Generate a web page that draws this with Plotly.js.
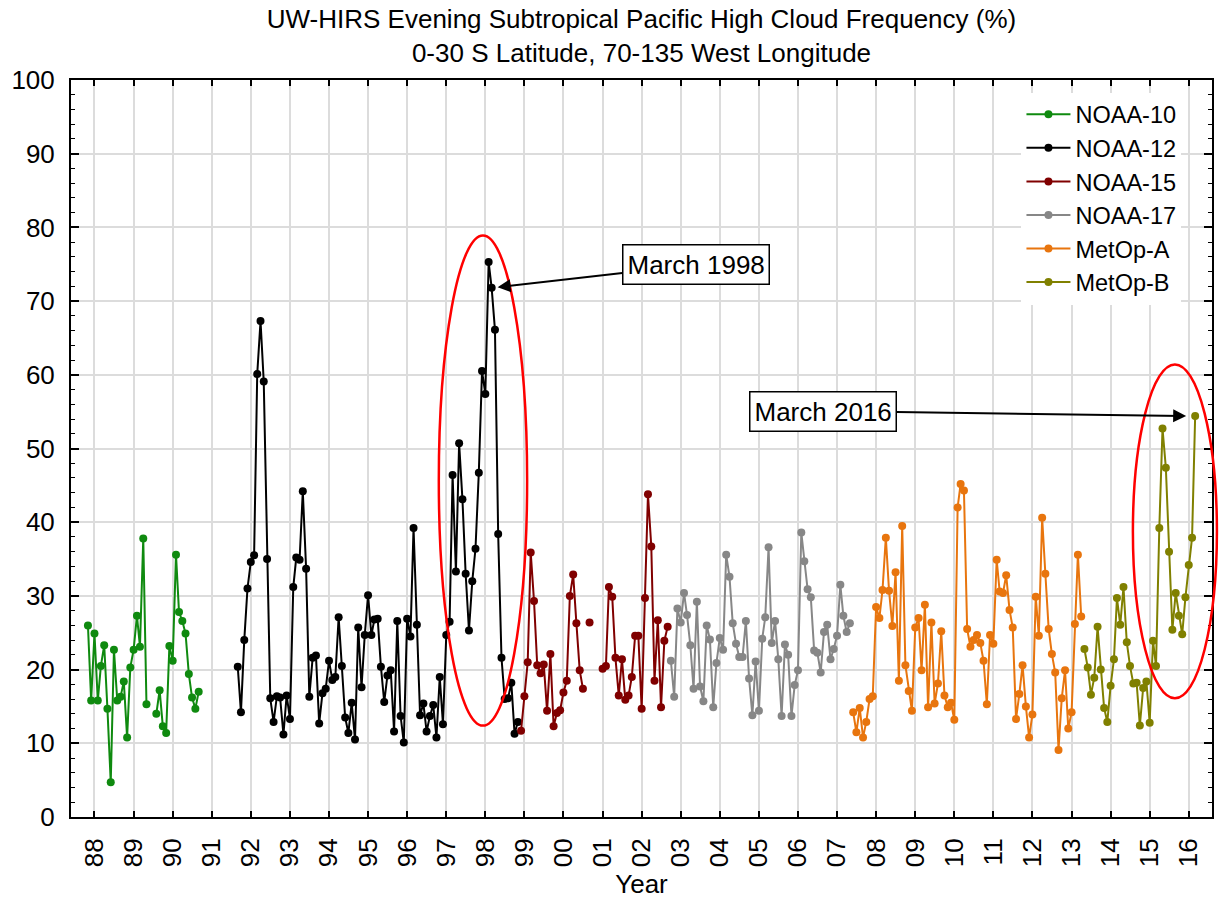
<!DOCTYPE html>
<html>
<head>
<meta charset="utf-8">
<script src="https://cdn.plot.ly/plotly-3.0.1.min.js"></script>
<style>
  html, body { margin: 0; padding: 0; background: #fff; }
  #chart { width: 1220px; height: 899px; }
</style>
</head>
<body>
<div id="chart"></div>
<script>
// ---------------- DATA (monthly values, % ; null = missing month) ----------------
const seriesNames = ['NOAA-10', 'NOAA-12', 'NOAA-15', 'NOAA-17', 'MetOp-A', 'MetOp-B'];

const noaa10Start = '1987-11';
const noaa10 = [26.0, 15.8,
  24.9, 15.8, 20.5, 23.3, 14.7, 4.7, 22.7, 15.8, 16.3, 18.4, 10.8, 20.3,
  22.7, 27.3, 23.1, 37.8, 15.3, null, null, 14.0, 17.2, 12.3, 11.4, 23.2,
  21.2, 35.6, 27.8, 26.6, 24.9, 19.4, 16.2, 14.7, 17.0];

const noaa12Start = '1991-09';
const noaa12 = [20.4, 14.2, 24.0, 31.0,
  34.6, 35.5, 60.1, 67.3, 59.1, 35.0, 16.1, 12.9, 16.4, 16.2, 11.2, 16.5,
  13.3, 31.2, 35.2, 34.9, 44.2, 33.7, 16.3, 21.6, 21.9, 12.7, 16.8, 17.4,
  21.2, 18.6, 19.0, 27.1, 20.5, 13.5, 11.4, 15.5, 10.5, 25.7, 17.6, 24.7,
  30.1, 24.7, 26.8, 26.9, 20.4, 15.6, 19.2, 19.9, 11.6, 26.6, 13.7, 10.1,
  26.9, 24.5, 39.2, 26.1, 13.8, 15.4, 11.6, 13.7, 15.2, 10.8, 19.0, 12.6,
  24.7, 26.5, 46.4, 33.3, 50.7, 43.1, 33.0, 25.3, 32.0, 36.4, 46.7, 60.5,
  57.4, 75.3, 71.8, 66.1, 38.4, 21.6, 16.0, 16.1, 18.2, 11.3, 12.9];

const noaa15Start = '1998-12';
const noaa15 = [11.7,
  16.4, 21.0, 35.9, 29.3, 20.6, 19.5, 20.7, 14.4, 22.1, 12.3, 14.1, 14.5,
  16.9, 18.5, 30.0, 32.9, 26.3, 19.9, 17.4, null, 26.4, null, null, null,
  20.1, 20.5, 31.2, 29.9, 21.6, 16.5, 21.4, 15.9, 16.5, 19.0, 24.6, 24.6,
  14.7, 29.7, 43.8, 36.7, 18.5, 26.7, 14.9, 23.9, 25.8];

const noaa17Start = '2002-10';
const noaa17 = [21.2, 16.3, 28.3,
  26.4, 30.4, 27.4, 23.3, 17.4, 29.2, 17.7, 15.7, 26.0, 24.1, 14.9, 20.9,
  24.3, 22.7, 35.6, 32.6, 26.3, 23.5, 21.7, 21.7, 26.6, 18.8, 13.8, 21.1,
  14.4, 24.2, 27.1, 36.6, 23.6, 26.6, 21.4, 13.7, 23.4, 22.0, 13.7, 17.9,
  19.9, 38.6, 34.7, 30.9, 29.8, 22.6, 22.3, 19.6, 25.1, 26.1, 21.4, 22.8,
  24.6, 31.5, 27.3, 25.1, 26.3];

const metopAStart = '2007-06';
const metopA = [14.2, 11.5, 14.8, 10.8, 12.9, 16.0, 16.4,
  28.5, 27.0, 30.8, 37.9, 30.7, 25.9, 33.2, 18.5, 39.5, 20.6, 17.1, 14.4,
  25.7, 27.0, 19.9, 28.8, 14.9, 26.4, 15.4, 18.1, 25.2, 16.5, 14.9, 15.5,
  13.2, 42.0, 45.2, 44.3, 25.5, 23.1, 24.0, 24.7, 23.6, 21.2, 15.3, 24.7,
  23.5, 34.9, 30.6, 30.4, 32.8, 28.1, 25.7, 13.3, 16.7, 20.6, 15.0, 10.8,
  13.9, 29.9, 24.6, 40.6, 33.0, 25.5, 22.1, 19.6, 9.1, 16.1, 19.9, 12.0,
  14.2, 26.2, 35.6, 27.2];

const metopBStart = '2013-05';
const metopB = [22.8, 20.3, 16.6, 18.9, 25.8, 20.0, 14.8, 12.9,
  17.8, 21.4, 29.7, 26.1, 31.2, 23.7, 20.5, 18.1, 18.2, 12.4, 17.5, 18.4,
  12.8, 23.9, 20.5, 39.2, 52.7, 47.4, 36.0, 25.4, 30.4, 27.3, 24.8, 29.8,
  34.2, 37.9, 54.4];

const titleLines = ['UW-HIRS Evening Subtropical Pacific High Cloud Frequency (%)',
                    '0-30 S Latitude, 70-135 West Longitude'];
const annotationLabels = ['March 1998', 'March 2016'];
const annotationMonths = ['1998-03-01', '2016-03-01'];

// ---------------- STYLE ----------------
const colors = ['#0f8a0f', '#000000', '#800000', '#878787', '#e8750e', '#808000'];
const FONT = '"Liberation Sans", Arial, Helvetica, sans-serif';

// ---------------- helpers ----------------
function monthSeq(start, n) {
  const [y0, m0] = start.split('-').map(Number);
  const out = [];
  for (let i = 0; i < n; i++) {
    const t = (m0 - 1) + i;
    const y = y0 + Math.floor(t / 12);
    const m = (t % 12) + 1;
    out.push(y + '-' + String(m).padStart(2, '0') + '-01');
  }
  return out;
}
function yearToDate(v) {
  const yr = Math.floor(v);
  const s = Date.UTC(yr, 0, 1), e = Date.UTC(yr + 1, 0, 1);
  return new Date(s + (v - yr) * (e - s)).toISOString().slice(0, 19).replace('T', ' ');
}

const X0 = 1987.399, X1 = 2016.594;   // axis range in decimal years
const xPaper = v => (v - X0) / (X1 - X0);
const yPaper = v => v / 100;

const allStarts = [noaa10Start, noaa12Start, noaa15Start, noaa17Start, metopAStart, metopBStart];
const allVals = [noaa10, noaa12, noaa15, noaa17, metopA, metopB];

const traces = allVals.map((vals, i) => ({
  type: 'scatter',
  mode: 'lines+markers',
  name: seriesNames[i],
  x: monthSeq(allStarts[i], vals.length),
  y: vals,
  connectgaps: false,
  line: { color: colors[i], width: 2 },
  marker: { color: colors[i], size: 8 },
  hoverinfo: 'x+y+name'
}));

// annotation anchors looked up from the data
const ptA = (() => { const t = traces[1]; const k = t.x.indexOf(annotationMonths[0]); return { x: t.x[k], y: t.y[k] }; })();
const ptB = (() => { const t = traces[5]; const k = t.x.indexOf(annotationMonths[1]); return { x: t.x[k], y: t.y[k] }; })();

const layout = {
  width: 1220, height: 899,
  margin: { l: 71, r: 8, t: 80, b: 82, pad: 0 },
  paper_bgcolor: '#ffffff',
  plot_bgcolor: '#ffffff',
  font: { family: FONT, size: 25, color: '#000000' },
  showlegend: true,
  title: {
    text: titleLines.join('<br>'),
    x: 0.5, xref: 'paper', xanchor: 'center',
    y: 1 - 28 / 899, yref: 'container', yanchor: 'middle',
    font: { family: FONT, size: 26, color: '#000' }
  },
  xaxis: {
    type: 'date',
    range: [yearToDate(X0), yearToDate(X1)],
    tick0: '1988-01-01', dtick: 'M12', tickformat: '%y',
    tickangle: -90,
    ticks: 'inside', ticklen: 6, tickwidth: 1.5, tickcolor: '#000',
    ticklabelstandoff: 9,
    tickfont: { family: FONT, size: 26, color: '#000' },
    showline: true, linecolor: '#000', linewidth: 2, mirror: 'allticks',
    showgrid: true, gridcolor: '#dcdcdc', gridwidth: 2,
    zeroline: false,
    title: { text: 'Year', font: { family: FONT, size: 26, color: '#000' }, standoff: 8 }
  },
  yaxis: {
    range: [0, 100], dtick: 10, tick0: 0,
    ticks: 'inside', ticklen: 8, tickwidth: 1.5, tickcolor: '#000',
    ticklabelstandoff: 9,
    tickfont: { family: FONT, size: 26, color: '#000' },
    minor: { dtick: 2, ticks: 'inside', ticklen: 4, tickwidth: 1.2, tickcolor: '#000', showgrid: false },
    showline: true, linecolor: '#000', linewidth: 2, mirror: 'allticks',
    showgrid: true, gridcolor: '#dcdcdc', gridwidth: 2,
    zeroline: false
  },
  legend: {
    x: 0.833, y: 0.983, xanchor: 'left', yanchor: 'top',
    bgcolor: '#ffffff', borderwidth: 0,
    font: { family: FONT, size: 23.5, color: '#000' },
    tracegroupgap: 0, itemwidth: 44
  },
  shapes: [
    { type: 'circle', xref: 'paper', yref: 'paper',
      x0: xPaper(1996.81), x1: xPaper(1999.07), y0: yPaper(12.4), y1: yPaper(78.9),
      line: { color: '#ff0000', width: 2.5 }, fillcolor: 'rgba(0,0,0,0)', layer: 'above' },
    { type: 'circle', xref: 'paper', yref: 'paper',
      x0: xPaper(2014.57), x1: xPaper(2016.72), y0: yPaper(16.1), y1: yPaper(61.4),
      line: { color: '#ff0000', width: 2.5 }, fillcolor: 'rgba(0,0,0,0)', layer: 'above' }
  ],
  annotations: [
    { text: annotationLabels[0], x: ptA.x, y: ptA.y, xref: 'x', yref: 'y',
      showarrow: true, ax: 204, ay: -23, axref: 'pixel', ayref: 'pixel',
      arrowhead: 2, arrowsize: 1.3, arrowwidth: 2, arrowcolor: '#000', standoff: 6,
      bgcolor: '#ffffff', bordercolor: '#000', borderwidth: 1.5, borderpad: 4,
      font: { family: FONT, size: 26, color: '#000' } },
    { text: annotationLabels[1], x: ptB.x, y: ptB.y, xref: 'x', yref: 'y',
      showarrow: true, ax: -372, ay: -5, axref: 'pixel', ayref: 'pixel',
      arrowhead: 2, arrowsize: 1.3, arrowwidth: 2, arrowcolor: '#000', standoff: 9,
      bgcolor: '#ffffff', bordercolor: '#000', borderwidth: 1.5, borderpad: 4,
      font: { family: FONT, size: 26, color: '#000' } }
  ]
};

Plotly.newPlot('chart', traces, layout, { displayModeBar: false, staticPlot: false });
</script>
</body>
</html>
